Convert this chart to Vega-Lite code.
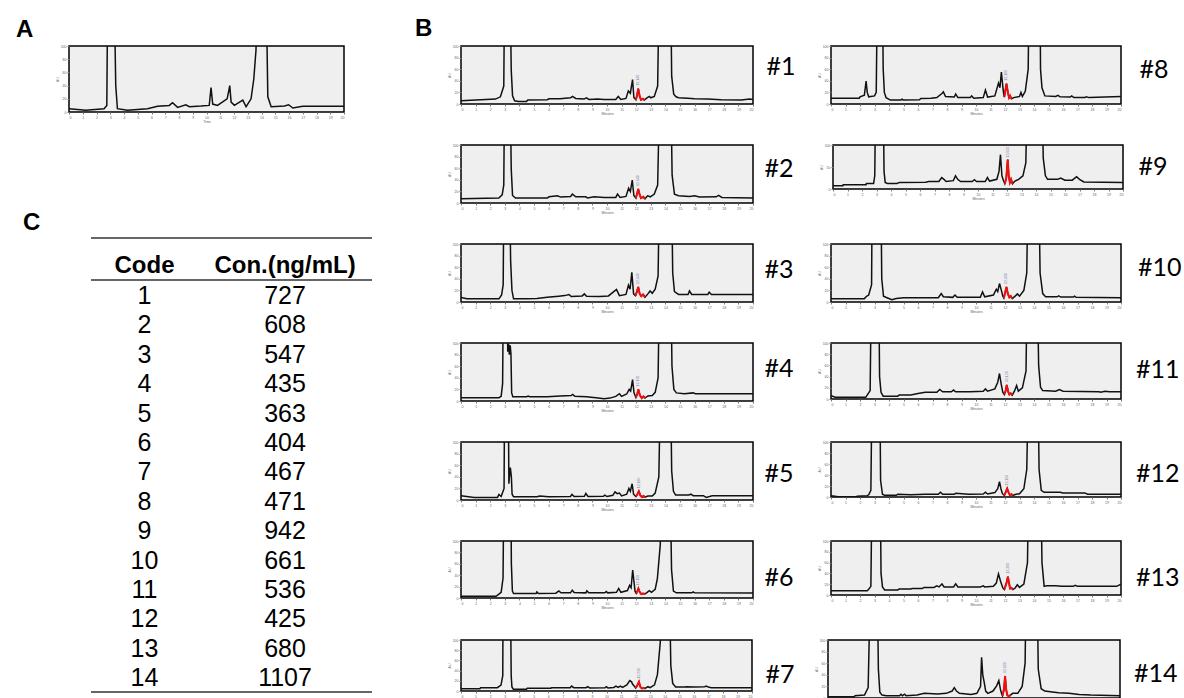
{
"$schema": "https://vega.github.io/schema/vega-lite/v6.json",
"background": "white",
"padding": {"left": 15, "top": 17, "right": 0, "bottom": 0},
"bounds": "flush",
"spacing": 392,
"config": {
 "view": {"fill": "#efefef", "stroke": "black", "strokeWidth": 1.5},
 "axis": {"grid": false, "domain": false, "labelFontSize": 3.5, "titleFontSize": 3.5, "labelColor": "#666", "titleColor": "#666", "tickColor": "#777", "tickSize": 2, "labelPadding": 1, "titlePadding": 1, "labelOverlap": false, "titleFontWeight": "normal", "labelFont": "Liberation Sans", "titleFont": "Liberation Sans"},
 "axisX": {"tickCount": 20},
 "axisY": {"tickCount": 5},
 "title": {"font": "Liberation Sans", "fontSize": 24, "fontWeight": "bold", "color": "black"}
},
"datasets": {
 "tbl": [
  {"Code": 1, "Con": 727}, {"Code": 2, "Con": 608}, {"Code": 3, "Con": 547}, {"Code": 4, "Con": 435},
  {"Code": 5, "Con": 363}, {"Code": 6, "Con": 404}, {"Code": 7, "Con": 467}, {"Code": 8, "Con": 471},
  {"Code": 9, "Con": 942}, {"Code": 10, "Con": 661}, {"Code": 11, "Con": 536}, {"Code": 12, "Con": 425},
  {"Code": 13, "Con": 680}, {"Code": 14, "Con": 1107}
 ],
 "ch": [
  {"s":0,"t":0,"y":5},{"s":0,"t":1.22,"y":2.5},{"s":0,"t":2.55,"y":5},{"s":0,"t":2.75,"y":10},{"s":0,"t":2.84,"y":250},{"s":0,"t":3.23,"y":250},{"s":0,"t":3.4,"y":40},{"s":0,"t":3.52,"y":5},{"s":0,"t":4.25,"y":2.5},{"s":0,"t":5.71,"y":5},{"s":0,"t":6.44,"y":8.6},{"s":0,"t":7.29,"y":10},{"s":0,"t":7.53,"y":14},{"s":0,"t":7.9,"y":7},{"s":0,"t":8.5,"y":11},{"s":0,"t":8.75,"y":8},{"s":0,"t":9.6,"y":9},{"s":0,"t":10.2,"y":10},{"s":0,"t":10.33,"y":37},{"s":0,"t":10.45,"y":12},{"s":0,"t":10.8,"y":10},{"s":0,"t":11.5,"y":20},{"s":0,"t":11.6,"y":30},{"s":0,"t":11.69,"y":40},{"s":0,"t":11.79,"y":15},{"s":0,"t":12.03,"y":10},{"s":0,"t":12.64,"y":18},{"s":0,"t":12.88,"y":8},{"s":0,"t":13.24,"y":20},{"s":0,"t":13.44,"y":50},{"s":0,"t":13.6,"y":94},{"s":0,"t":13.73,"y":250},{"s":0,"t":14.29,"y":250},{"s":0,"t":14.46,"y":23},{"s":0,"t":14.7,"y":8},{"s":0,"t":15.67,"y":9},{"s":0,"t":15.97,"y":11},{"s":0,"t":16.28,"y":6},{"s":0,"t":17.0,"y":8.6},{"s":0,"t":20,"y":8.6},

  {"s":1,"t":0,"y":5.6},{"s":1,"t":2.36,"y":8.5},{"s":1,"t":2.7,"y":12.4},{"s":1,"t":2.93,"y":31},{"s":1,"t":3.0,"y":250},{"s":1,"t":3.34,"y":250},{"s":1,"t":3.44,"y":59},{"s":1,"t":3.53,"y":14},{"s":1,"t":3.67,"y":5.6},{"s":1,"t":3.96,"y":4.5},{"s":1,"t":4.49,"y":4.5},{"s":1,"t":4.58,"y":6.8},{"s":1,"t":5.91,"y":7.3},{"s":1,"t":6.03,"y":9},{"s":1,"t":6.78,"y":9},{"s":1,"t":7.51,"y":10.7},{"s":1,"t":7.63,"y":13},{"s":1,"t":7.86,"y":9.6},{"s":1,"t":8.43,"y":8.5},{"s":1,"t":8.59,"y":10.7},{"s":1,"t":8.77,"y":7.9},{"s":1,"t":9.35,"y":8.5},{"s":1,"t":9.8,"y":7.9},{"s":1,"t":10.6,"y":7.9},{"s":1,"t":10.77,"y":13},{"s":1,"t":10.95,"y":7.9},{"s":1,"t":11.3,"y":9.6},{"s":1,"t":11.46,"y":22.6},{"s":1,"t":11.6,"y":18.6},{"s":1,"t":11.75,"y":42},{"s":1,"t":11.84,"y":11.3},{"s":1,"t":11.98,"y":7.3,"r":1},{"s":1,"t":12.05,"y":14,"r":1},{"s":1,"t":12.14,"y":26.6,"r":1},{"s":1,"t":12.24,"y":13,"r":1},{"s":1,"t":12.33,"y":7.3,"r":1},{"s":1,"t":12.46,"y":9,"r":1},{"s":1,"t":12.55,"y":6.8,"r":1},{"s":1,"t":12.74,"y":10.7},{"s":1,"t":12.9,"y":13},{"s":1,"t":13.0,"y":10.7},{"s":1,"t":13.24,"y":13},{"s":1,"t":13.47,"y":31},{"s":1,"t":13.6,"y":250},{"s":1,"t":14.34,"y":250},{"s":1,"t":14.43,"y":48},{"s":1,"t":14.57,"y":17},{"s":1,"t":14.73,"y":12.4},{"s":1,"t":14.9,"y":10.7},{"s":1,"t":15.53,"y":10},{"s":1,"t":16.0,"y":9},{"s":1,"t":16.9,"y":8.5},{"s":1,"t":17.8,"y":7.3},{"s":1,"t":19.2,"y":6.8},{"s":1,"t":19.77,"y":8.5},{"s":1,"t":20,"y":7.9},

  {"s":2,"t":0,"y":7.3},{"s":2,"t":2.59,"y":8.5},{"s":2,"t":2.82,"y":14},{"s":2,"t":2.93,"y":31},{"s":2,"t":3.0,"y":250},{"s":2,"t":3.34,"y":250},{"s":2,"t":3.44,"y":59},{"s":2,"t":3.53,"y":13},{"s":2,"t":3.73,"y":8.5},{"s":2,"t":5.91,"y":8.5},{"s":2,"t":6.03,"y":10.7},{"s":2,"t":6.6,"y":12.4},{"s":2,"t":6.83,"y":10.2},{"s":2,"t":7.51,"y":11.3},{"s":2,"t":7.63,"y":15.3},{"s":2,"t":7.86,"y":10.7},{"s":2,"t":8.55,"y":10.7},{"s":2,"t":8.66,"y":8.5},{"s":2,"t":9.12,"y":10.7},{"s":2,"t":9.8,"y":9.6},{"s":2,"t":10.6,"y":9.6},{"s":2,"t":10.72,"y":15.3},{"s":2,"t":10.9,"y":9.6},{"s":2,"t":11.3,"y":11.3},{"s":2,"t":11.48,"y":25.4},{"s":2,"t":11.6,"y":19.8},{"s":2,"t":11.73,"y":39.5},{"s":2,"t":11.84,"y":13},{"s":2,"t":11.98,"y":8.5,"r":1},{"s":2,"t":12.05,"y":15.3,"r":1},{"s":2,"t":12.14,"y":24.3,"r":1},{"s":2,"t":12.24,"y":14,"r":1},{"s":2,"t":12.33,"y":8.5,"r":1},{"s":2,"t":12.49,"y":10.7,"r":1},{"s":2,"t":12.6,"y":7.3,"r":1},{"s":2,"t":12.78,"y":12.4},{"s":2,"t":12.97,"y":10.7},{"s":2,"t":13.24,"y":15.3},{"s":2,"t":13.47,"y":31},{"s":2,"t":13.65,"y":250},{"s":2,"t":14.34,"y":250},{"s":2,"t":14.46,"y":48},{"s":2,"t":14.62,"y":15.3},{"s":2,"t":14.9,"y":12.4},{"s":2,"t":15.65,"y":11.3},{"s":2,"t":16.0,"y":12.4},{"s":2,"t":16.33,"y":10.2},{"s":2,"t":17.48,"y":10.7},{"s":2,"t":17.64,"y":13},{"s":2,"t":17.87,"y":9.6},{"s":2,"t":20,"y":8.5},

  {"s":3,"t":0,"y":7.8},{"s":3,"t":0.41,"y":5.5},{"s":3,"t":2.6,"y":5.5},{"s":3,"t":2.78,"y":12},{"s":3,"t":2.89,"y":30},{"s":3,"t":2.95,"y":250},{"s":3,"t":3.3,"y":250},{"s":3,"t":3.4,"y":70},{"s":3,"t":3.49,"y":20},{"s":3,"t":3.6,"y":5.5},{"s":3,"t":4.5,"y":5.5},{"s":3,"t":5.2,"y":6},{"s":3,"t":5.9,"y":8.3},{"s":3,"t":6.7,"y":10},{"s":3,"t":7.1,"y":11},{"s":3,"t":7.4,"y":13},{"s":3,"t":7.55,"y":9.5},{"s":3,"t":8.3,"y":10.5},{"s":3,"t":8.45,"y":14},{"s":3,"t":8.6,"y":10},{"s":3,"t":9.5,"y":9.5},{"s":3,"t":10.1,"y":10.5},{"s":3,"t":10.65,"y":21.7},{"s":3,"t":10.85,"y":11},{"s":3,"t":11.3,"y":13},{"s":3,"t":11.47,"y":29},{"s":3,"t":11.58,"y":22},{"s":3,"t":11.7,"y":51},{"s":3,"t":11.82,"y":14},{"s":3,"t":11.95,"y":11,"r":1},{"s":3,"t":12.05,"y":18,"r":1},{"s":3,"t":12.14,"y":26,"r":1},{"s":3,"t":12.24,"y":14,"r":1},{"s":3,"t":12.35,"y":10,"r":1},{"s":3,"t":12.47,"y":13,"r":1},{"s":3,"t":12.6,"y":8.3,"r":1},{"s":3,"t":12.8,"y":14},{"s":3,"t":12.95,"y":19},{"s":3,"t":13.1,"y":15},{"s":3,"t":13.3,"y":22},{"s":3,"t":13.5,"y":45},{"s":3,"t":13.62,"y":250},{"s":3,"t":14.4,"y":250},{"s":3,"t":14.5,"y":50},{"s":3,"t":14.62,"y":18},{"s":3,"t":14.9,"y":13},{"s":3,"t":15.55,"y":12.8},{"s":3,"t":15.65,"y":19},{"s":3,"t":15.8,"y":13},{"s":3,"t":16.9,"y":13},{"s":3,"t":17.0,"y":17},{"s":3,"t":17.15,"y":13},{"s":3,"t":20,"y":13},

  {"s":4,"t":0,"y":5.7},{"s":4,"t":2.6,"y":5.7},{"s":4,"t":2.75,"y":8},{"s":4,"t":2.85,"y":30},{"s":4,"t":2.92,"y":250},{"s":4,"t":3.15,"y":250},{"s":4,"t":3.2,"y":85},{"s":4,"t":3.26,"y":98},{"s":4,"t":3.31,"y":80},{"s":4,"t":3.37,"y":96},{"s":4,"t":3.42,"y":82},{"s":4,"t":3.47,"y":14},{"s":4,"t":3.55,"y":7.4},{"s":4,"t":4.5,"y":7.4},{"s":4,"t":4.6,"y":8.6},{"s":4,"t":4.7,"y":7.4},{"s":4,"t":5.9,"y":7.4},{"s":4,"t":6.8,"y":8.6},{"s":4,"t":7.55,"y":9.5},{"s":4,"t":7.65,"y":11.4},{"s":4,"t":7.8,"y":8},{"s":4,"t":8.6,"y":7.4},{"s":4,"t":9.4,"y":5},{"s":4,"t":9.8,"y":4},{"s":4,"t":10.2,"y":5},{"s":4,"t":10.6,"y":8},{"s":4,"t":10.85,"y":12.6},{"s":4,"t":11.0,"y":8},{"s":4,"t":11.35,"y":12},{"s":4,"t":11.52,"y":20},{"s":4,"t":11.62,"y":17},{"s":4,"t":11.75,"y":37},{"s":4,"t":11.85,"y":14},{"s":4,"t":11.98,"y":6,"r":1},{"s":4,"t":12.07,"y":12,"r":1},{"s":4,"t":12.15,"y":20,"r":1},{"s":4,"t":12.25,"y":10,"r":1},{"s":4,"t":12.38,"y":5,"r":1},{"s":4,"t":12.5,"y":8,"r":1},{"s":4,"t":12.6,"y":5,"r":1},{"s":4,"t":12.8,"y":8.6},{"s":4,"t":13.1,"y":9.6},{"s":4,"t":13.3,"y":15},{"s":4,"t":13.5,"y":40},{"s":4,"t":13.62,"y":250},{"s":4,"t":14.35,"y":250},{"s":4,"t":14.45,"y":60},{"s":4,"t":14.58,"y":20},{"s":4,"t":14.75,"y":14},{"s":4,"t":15.3,"y":12.6},{"s":4,"t":15.9,"y":14},{"s":4,"t":16.05,"y":12.6},{"s":4,"t":20,"y":12.6},

  {"s":5,"t":0,"y":7.3},{"s":5,"t":0.9,"y":4.5},{"s":5,"t":2.5,"y":4.5},{"s":5,"t":2.6,"y":9.6},{"s":5,"t":2.75,"y":6},{"s":5,"t":2.95,"y":20},{"s":5,"t":3.0,"y":250},{"s":5,"t":3.22,"y":250},{"s":5,"t":3.28,"y":28},{"s":5,"t":3.33,"y":45},{"s":5,"t":3.38,"y":56},{"s":5,"t":3.45,"y":40},{"s":5,"t":3.5,"y":10},{"s":5,"t":3.6,"y":5.6},{"s":5,"t":5.2,"y":5.6},{"s":5,"t":5.4,"y":7},{"s":5,"t":6.0,"y":5.6},{"s":5,"t":7.5,"y":6},{"s":5,"t":7.6,"y":9.6},{"s":5,"t":7.75,"y":6},{"s":5,"t":8.45,"y":6.5},{"s":5,"t":8.55,"y":11.3},{"s":5,"t":8.7,"y":6},{"s":5,"t":9.75,"y":6.5},{"s":5,"t":9.85,"y":8.5},{"s":5,"t":10.0,"y":6},{"s":5,"t":10.4,"y":8},{"s":5,"t":10.55,"y":14},{"s":5,"t":10.7,"y":11},{"s":5,"t":10.85,"y":12},{"s":5,"t":11.0,"y":7},{"s":5,"t":11.35,"y":10},{"s":5,"t":11.5,"y":20},{"s":5,"t":11.6,"y":15},{"s":5,"t":11.72,"y":28},{"s":5,"t":11.82,"y":10},{"s":5,"t":11.98,"y":6,"r":1},{"s":5,"t":12.08,"y":10,"r":1},{"s":5,"t":12.18,"y":15,"r":1},{"s":5,"t":12.28,"y":8,"r":1},{"s":5,"t":12.4,"y":5,"r":1},{"s":5,"t":12.5,"y":7,"r":1},{"s":5,"t":12.6,"y":5,"r":1},{"s":5,"t":12.8,"y":7},{"s":5,"t":13.1,"y":7},{"s":5,"t":13.3,"y":12},{"s":5,"t":13.55,"y":40},{"s":5,"t":13.7,"y":250},{"s":5,"t":14.33,"y":250},{"s":5,"t":14.43,"y":50},{"s":5,"t":14.55,"y":15},{"s":5,"t":14.7,"y":8.5},{"s":5,"t":15.6,"y":8.5},{"s":5,"t":15.75,"y":10},{"s":5,"t":15.9,"y":7.5},{"s":5,"t":16.6,"y":7.5},{"s":5,"t":16.8,"y":4.5},{"s":5,"t":17.2,"y":7.3},{"s":5,"t":20,"y":7.3},

  {"s":6,"t":0,"y":3},{"s":6,"t":2.4,"y":3},{"s":6,"t":2.55,"y":6},{"s":6,"t":2.75,"y":10},{"s":6,"t":2.88,"y":35},{"s":6,"t":2.95,"y":250},{"s":6,"t":3.4,"y":250},{"s":6,"t":3.45,"y":60},{"s":6,"t":3.52,"y":12},{"s":6,"t":3.6,"y":7.7},{"s":6,"t":5.15,"y":7.7},{"s":6,"t":5.2,"y":10.7},{"s":6,"t":5.3,"y":7.7},{"s":6,"t":6.5,"y":8.5},{"s":6,"t":6.7,"y":12.5},{"s":6,"t":6.85,"y":9},{"s":6,"t":7.5,"y":9},{"s":6,"t":7.62,"y":13.7},{"s":6,"t":7.75,"y":9.5},{"s":6,"t":8.55,"y":9},{"s":6,"t":8.62,"y":12.5},{"s":6,"t":8.75,"y":9},{"s":6,"t":9.85,"y":9},{"s":6,"t":9.95,"y":11.5},{"s":6,"t":10.05,"y":9},{"s":6,"t":10.65,"y":10},{"s":6,"t":10.8,"y":16.7},{"s":6,"t":10.95,"y":10},{"s":6,"t":11.4,"y":13},{"s":6,"t":11.55,"y":22},{"s":6,"t":11.65,"y":18},{"s":6,"t":11.76,"y":49},{"s":6,"t":11.85,"y":28},{"s":6,"t":11.92,"y":12},{"s":6,"t":12.0,"y":8,"r":1},{"s":6,"t":12.08,"y":12,"r":1},{"s":6,"t":12.15,"y":16.7,"r":1},{"s":6,"t":12.25,"y":10,"r":1},{"s":6,"t":12.35,"y":7,"r":1},{"s":6,"t":12.48,"y":8,"r":1},{"s":6,"t":12.6,"y":7,"r":1},{"s":6,"t":12.75,"y":10},{"s":6,"t":12.9,"y":13},{"s":6,"t":13.05,"y":10},{"s":6,"t":13.3,"y":15},{"s":6,"t":13.45,"y":34},{"s":6,"t":13.65,"y":94},{"s":6,"t":13.75,"y":250},{"s":6,"t":14.3,"y":250},{"s":6,"t":14.42,"y":50},{"s":6,"t":14.55,"y":12},{"s":6,"t":14.75,"y":9},{"s":6,"t":15.8,"y":9},{"s":6,"t":15.9,"y":10.7},{"s":6,"t":16.0,"y":9},{"s":6,"t":20,"y":8.9},

  {"s":7,"t":0,"y":4.5},{"s":7,"t":1.3,"y":4.5},{"s":7,"t":1.35,"y":6.5},{"s":7,"t":2.5,"y":6.5},{"s":7,"t":2.75,"y":11.6},{"s":7,"t":2.87,"y":30},{"s":7,"t":2.9,"y":250},{"s":7,"t":3.38,"y":250},{"s":7,"t":3.45,"y":30},{"s":7,"t":3.5,"y":8},{"s":7,"t":3.6,"y":3.2},{"s":7,"t":4.5,"y":3.2},{"s":7,"t":4.55,"y":5.2},{"s":7,"t":6.18,"y":5.2},{"s":7,"t":6.22,"y":6.5},{"s":7,"t":7.5,"y":6.5},{"s":7,"t":7.6,"y":9.7},{"s":7,"t":7.75,"y":6.5},{"s":7,"t":8.6,"y":6.5},{"s":7,"t":8.7,"y":8.5},{"s":7,"t":8.85,"y":6},{"s":7,"t":9.9,"y":6.5},{"s":7,"t":10.0,"y":8.5},{"s":7,"t":10.1,"y":6},{"s":7,"t":10.5,"y":7},{"s":7,"t":10.65,"y":9.7},{"s":7,"t":10.8,"y":7},{"s":7,"t":10.95,"y":9.7},{"s":7,"t":11.1,"y":7},{"s":7,"t":11.4,"y":12},{"s":7,"t":11.6,"y":20.6},{"s":7,"t":11.72,"y":18},{"s":7,"t":11.8,"y":13},{"s":7,"t":11.9,"y":10},{"s":7,"t":12.0,"y":6,"r":1},{"s":7,"t":12.1,"y":10,"r":1},{"s":7,"t":12.23,"y":18,"r":1},{"s":7,"t":12.33,"y":8,"r":1},{"s":7,"t":12.43,"y":5,"r":1},{"s":7,"t":12.55,"y":6,"r":1},{"s":7,"t":12.65,"y":5,"r":1},{"s":7,"t":12.85,"y":8.4},{"s":7,"t":13.0,"y":6.5},{"s":7,"t":13.3,"y":12},{"s":7,"t":13.5,"y":32},{"s":7,"t":13.7,"y":97},{"s":7,"t":13.8,"y":250},{"s":7,"t":14.3,"y":250},{"s":7,"t":14.42,"y":50},{"s":7,"t":14.55,"y":15},{"s":7,"t":14.75,"y":7.7},{"s":7,"t":15.4,"y":7.7},{"s":7,"t":15.5,"y":8.5},{"s":7,"t":16.0,"y":7.7},{"s":7,"t":16.75,"y":8.5},{"s":7,"t":16.85,"y":9.7},{"s":7,"t":17.0,"y":7.7},{"s":7,"t":17.2,"y":6.5},{"s":7,"t":20,"y":6.5},

  {"s":8,"t":0,"y":10},{"s":8,"t":1.95,"y":10},{"s":8,"t":2.0,"y":12.4},{"s":8,"t":2.3,"y":15},{"s":8,"t":2.42,"y":39.5},{"s":8,"t":2.5,"y":20},{"s":8,"t":2.6,"y":12.4},{"s":8,"t":3.0,"y":14},{"s":8,"t":3.12,"y":20},{"s":8,"t":3.22,"y":250},{"s":8,"t":3.52,"y":250},{"s":8,"t":3.6,"y":60},{"s":8,"t":3.68,"y":20},{"s":8,"t":3.8,"y":11},{"s":8,"t":4.1,"y":6.8},{"s":8,"t":4.8,"y":6.8},{"s":8,"t":4.9,"y":8.5},{"s":8,"t":5.0,"y":6.8},{"s":8,"t":6.1,"y":7.3},{"s":8,"t":6.2,"y":9.5},{"s":8,"t":6.9,"y":10},{"s":8,"t":7.3,"y":11},{"s":8,"t":7.65,"y":18},{"s":8,"t":7.75,"y":21},{"s":8,"t":7.9,"y":13},{"s":8,"t":8.5,"y":12},{"s":8,"t":8.6,"y":17},{"s":8,"t":8.75,"y":11},{"s":8,"t":9.6,"y":11},{"s":8,"t":9.7,"y":14},{"s":8,"t":9.85,"y":10},{"s":8,"t":10.5,"y":11},{"s":8,"t":10.65,"y":24},{"s":8,"t":10.8,"y":12},{"s":8,"t":11.3,"y":14},{"s":8,"t":11.55,"y":36},{"s":8,"t":11.65,"y":28},{"s":8,"t":11.75,"y":55},{"s":8,"t":11.85,"y":30},{"s":8,"t":11.92,"y":15},{"s":8,"t":11.95,"y":12,"r":1},{"s":8,"t":12.02,"y":22,"r":1},{"s":8,"t":12.1,"y":35,"r":1},{"s":8,"t":12.2,"y":20,"r":1},{"s":8,"t":12.28,"y":11,"r":1},{"s":8,"t":12.35,"y":14,"r":1},{"s":8,"t":12.45,"y":9,"r":1},{"s":8,"t":12.6,"y":11},{"s":8,"t":13.0,"y":13},{"s":8,"t":13.1,"y":20},{"s":8,"t":13.2,"y":13},{"s":8,"t":13.4,"y":22},{"s":8,"t":13.6,"y":60},{"s":8,"t":13.68,"y":250},{"s":8,"t":14.4,"y":250},{"s":8,"t":14.45,"y":60},{"s":8,"t":14.55,"y":28},{"s":8,"t":14.75,"y":14},{"s":8,"t":15.5,"y":13},{"s":8,"t":15.65,"y":15},{"s":8,"t":15.8,"y":12.5},{"s":8,"t":16.5,"y":12},{"s":8,"t":16.6,"y":14},{"s":8,"t":16.75,"y":11},{"s":8,"t":17.5,"y":11},{"s":8,"t":17.6,"y":12.4},{"s":8,"t":17.8,"y":11},{"s":8,"t":20,"y":13},

  {"s":9,"t":0,"y":7.4},{"s":9,"t":0.68,"y":7.4},{"s":9,"t":0.7,"y":9.6},{"s":9,"t":2.28,"y":9.6},{"s":9,"t":2.3,"y":12.6},{"s":9,"t":2.8,"y":12.6},{"s":9,"t":2.88,"y":30},{"s":9,"t":2.95,"y":250},{"s":9,"t":3.45,"y":250},{"s":9,"t":3.52,"y":40},{"s":9,"t":3.6,"y":15},{"s":9,"t":3.75,"y":12.6},{"s":9,"t":4.4,"y":12.6},{"s":9,"t":4.6,"y":15},{"s":9,"t":6.4,"y":15.5},{"s":9,"t":6.6,"y":17},{"s":9,"t":7.3,"y":17},{"s":9,"t":7.5,"y":26},{"s":9,"t":7.65,"y":22},{"s":9,"t":7.8,"y":17},{"s":9,"t":8.3,"y":19},{"s":9,"t":8.45,"y":30},{"s":9,"t":8.6,"y":22},{"s":9,"t":8.8,"y":17},{"s":9,"t":9.6,"y":17},{"s":9,"t":9.75,"y":21},{"s":9,"t":9.9,"y":17},{"s":9,"t":10.5,"y":17},{"s":9,"t":10.65,"y":26},{"s":9,"t":10.8,"y":18},{"s":9,"t":11.3,"y":22},{"s":9,"t":11.45,"y":40},{"s":9,"t":11.55,"y":78},{"s":9,"t":11.65,"y":30},{"s":9,"t":11.75,"y":20},{"s":9,"t":11.85,"y":12,"r":1},{"s":9,"t":11.95,"y":25,"r":1},{"s":9,"t":12.05,"y":67,"r":1},{"s":9,"t":12.12,"y":30,"r":1},{"s":9,"t":12.2,"y":15,"r":1},{"s":9,"t":12.28,"y":22,"r":1},{"s":9,"t":12.38,"y":12,"r":1},{"s":9,"t":12.55,"y":18},{"s":9,"t":12.8,"y":22},{"s":9,"t":13.1,"y":30},{"s":9,"t":13.3,"y":60},{"s":9,"t":13.4,"y":250},{"s":9,"t":14.4,"y":250},{"s":9,"t":14.5,"y":70},{"s":9,"t":14.65,"y":30},{"s":9,"t":14.8,"y":22},{"s":9,"t":15.5,"y":22},{"s":9,"t":15.7,"y":25},{"s":9,"t":16.0,"y":20},{"s":9,"t":16.5,"y":20},{"s":9,"t":16.8,"y":28},{"s":9,"t":17.0,"y":22},{"s":9,"t":17.3,"y":16},{"s":9,"t":20,"y":15},

  {"s":10,"t":0,"y":5.8},{"s":10,"t":2.3,"y":5.8},{"s":10,"t":2.45,"y":9.8},{"s":10,"t":2.6,"y":12},{"s":10,"t":2.8,"y":30},{"s":10,"t":2.85,"y":250},{"s":10,"t":3.42,"y":250},{"s":10,"t":3.5,"y":40},{"s":10,"t":3.62,"y":9.8},{"s":10,"t":3.9,"y":7},{"s":10,"t":4.2,"y":4},{"s":10,"t":4.5,"y":6},{"s":10,"t":5.0,"y":7.5},{"s":10,"t":7.4,"y":7.5},{"s":10,"t":7.6,"y":14.5},{"s":10,"t":7.75,"y":9},{"s":10,"t":8.4,"y":8},{"s":10,"t":8.55,"y":12},{"s":10,"t":8.7,"y":8},{"s":10,"t":10.3,"y":8},{"s":10,"t":10.45,"y":17.3},{"s":10,"t":10.6,"y":9},{"s":10,"t":11.2,"y":12},{"s":10,"t":11.4,"y":22},{"s":10,"t":11.5,"y":18},{"s":10,"t":11.62,"y":31.8},{"s":10,"t":11.75,"y":20},{"s":10,"t":11.85,"y":10},{"s":10,"t":11.92,"y":7,"r":1},{"s":10,"t":12.0,"y":15,"r":1},{"s":10,"t":12.1,"y":26,"r":1},{"s":10,"t":12.2,"y":14,"r":1},{"s":10,"t":12.3,"y":8,"r":1},{"s":10,"t":12.4,"y":10,"r":1},{"s":10,"t":12.5,"y":6,"r":1},{"s":10,"t":12.7,"y":10},{"s":10,"t":12.85,"y":14},{"s":10,"t":13.0,"y":10},{"s":10,"t":13.3,"y":20},{"s":10,"t":13.5,"y":50},{"s":10,"t":13.62,"y":250},{"s":10,"t":14.3,"y":250},{"s":10,"t":14.42,"y":50},{"s":10,"t":14.6,"y":14.5},{"s":10,"t":14.8,"y":9},{"s":10,"t":15.6,"y":9},{"s":10,"t":15.7,"y":10.5},{"s":10,"t":15.85,"y":8.5},{"s":10,"t":16.7,"y":8.5},{"s":10,"t":16.8,"y":10},{"s":10,"t":16.9,"y":8},{"s":10,"t":20,"y":7.5},

  {"s":11,"t":0,"y":6},{"s":11,"t":0.3,"y":3},{"s":11,"t":2.4,"y":3},{"s":11,"t":2.55,"y":9},{"s":11,"t":2.7,"y":15},{"s":11,"t":2.8,"y":250},{"s":11,"t":3.28,"y":250},{"s":11,"t":3.35,"y":40},{"s":11,"t":3.45,"y":12},{"s":11,"t":3.6,"y":5},{"s":11,"t":4.6,"y":5},{"s":11,"t":4.7,"y":7},{"s":11,"t":5.5,"y":7},{"s":11,"t":6.0,"y":10},{"s":11,"t":6.5,"y":12},{"s":11,"t":7.3,"y":12},{"s":11,"t":7.5,"y":17},{"s":11,"t":7.7,"y":13},{"s":11,"t":8.3,"y":13},{"s":11,"t":8.45,"y":16},{"s":11,"t":8.6,"y":13},{"s":11,"t":9.6,"y":13},{"s":11,"t":10.5,"y":14},{"s":11,"t":10.65,"y":18},{"s":11,"t":10.8,"y":14},{"s":11,"t":11.3,"y":18},{"s":11,"t":11.5,"y":30},{"s":11,"t":11.62,"y":45.5},{"s":11,"t":11.75,"y":25},{"s":11,"t":11.85,"y":12},{"s":11,"t":11.95,"y":8,"r":1},{"s":11,"t":12.05,"y":15,"r":1},{"s":11,"t":12.12,"y":25,"r":1},{"s":11,"t":12.22,"y":13,"r":1},{"s":11,"t":12.3,"y":8,"r":1},{"s":11,"t":12.4,"y":10,"r":1},{"s":11,"t":12.5,"y":7,"r":1},{"s":11,"t":12.65,"y":14},{"s":11,"t":12.8,"y":24},{"s":11,"t":12.92,"y":14},{"s":11,"t":13.2,"y":20},{"s":11,"t":13.45,"y":50},{"s":11,"t":13.55,"y":250},{"s":11,"t":14.2,"y":250},{"s":11,"t":14.32,"y":60},{"s":11,"t":14.45,"y":21},{"s":11,"t":14.6,"y":15},{"s":11,"t":15.5,"y":14},{"s":11,"t":15.75,"y":17},{"s":11,"t":16.0,"y":14},{"s":11,"t":18.5,"y":13},{"s":11,"t":18.6,"y":12},{"s":11,"t":18.9,"y":14},{"s":11,"t":19.2,"y":13},{"s":11,"t":20,"y":13},

  {"s":12,"t":0,"y":2.5},{"s":12,"t":0.5,"y":0.3},{"s":12,"t":1.7,"y":0.3},{"s":12,"t":1.8,"y":1.5},{"s":12,"t":2.5,"y":2.5},{"s":12,"t":2.6,"y":4},{"s":12,"t":2.75,"y":12},{"s":12,"t":2.85,"y":250},{"s":12,"t":3.35,"y":250},{"s":12,"t":3.42,"y":30},{"s":12,"t":3.55,"y":5},{"s":12,"t":3.7,"y":3},{"s":12,"t":4.5,"y":3},{"s":12,"t":4.6,"y":5},{"s":12,"t":5.5,"y":4},{"s":12,"t":6.5,"y":5},{"s":12,"t":7.4,"y":5},{"s":12,"t":7.55,"y":8.6},{"s":12,"t":7.7,"y":5},{"s":12,"t":8.5,"y":5},{"s":12,"t":8.6,"y":7},{"s":12,"t":9.5,"y":5},{"s":12,"t":10.5,"y":5.5},{"s":12,"t":10.65,"y":8.6},{"s":12,"t":10.8,"y":5.5},{"s":12,"t":11.3,"y":8},{"s":12,"t":11.5,"y":15},{"s":12,"t":11.62,"y":28},{"s":12,"t":11.72,"y":15},{"s":12,"t":11.82,"y":6},{"s":12,"t":11.95,"y":3,"r":1},{"s":12,"t":12.05,"y":9,"r":1},{"s":12,"t":12.15,"y":15.4,"r":1},{"s":12,"t":12.25,"y":8,"r":1},{"s":12,"t":12.35,"y":3,"r":1},{"s":12,"t":12.45,"y":5,"r":1},{"s":12,"t":12.55,"y":3,"r":1},{"s":12,"t":12.75,"y":5},{"s":12,"t":13.0,"y":6},{"s":12,"t":13.3,"y":15},{"s":12,"t":13.5,"y":50},{"s":12,"t":13.65,"y":250},{"s":12,"t":14.25,"y":250},{"s":12,"t":14.35,"y":50},{"s":12,"t":14.5,"y":12},{"s":12,"t":14.7,"y":8.6},{"s":12,"t":15.8,"y":8.6},{"s":12,"t":16.0,"y":7.5},{"s":12,"t":17.5,"y":7.5},{"s":12,"t":17.7,"y":5},{"s":12,"t":20,"y":5},

  {"s":13,"t":0,"y":8},{"s":13,"t":2.5,"y":8},{"s":13,"t":2.6,"y":10.6},{"s":13,"t":2.75,"y":16},{"s":13,"t":2.85,"y":250},{"s":13,"t":3.38,"y":250},{"s":13,"t":3.45,"y":40},{"s":13,"t":3.55,"y":15},{"s":13,"t":3.7,"y":9.4},{"s":13,"t":4.6,"y":9.4},{"s":13,"t":4.7,"y":11},{"s":13,"t":5.5,"y":11},{"s":13,"t":5.6,"y":12},{"s":13,"t":6.3,"y":12},{"s":13,"t":6.4,"y":14},{"s":13,"t":7.1,"y":14},{"s":13,"t":7.3,"y":17},{"s":13,"t":7.45,"y":15},{"s":13,"t":7.65,"y":20.6},{"s":13,"t":7.8,"y":15},{"s":13,"t":8.45,"y":15},{"s":13,"t":8.6,"y":20.6},{"s":13,"t":8.75,"y":15},{"s":13,"t":9.7,"y":15},{"s":13,"t":10.3,"y":15},{"s":13,"t":10.5,"y":17},{"s":13,"t":10.6,"y":15},{"s":13,"t":11.2,"y":16},{"s":13,"t":11.4,"y":22},{"s":13,"t":11.55,"y":39},{"s":13,"t":11.7,"y":25},{"s":13,"t":11.85,"y":13},{"s":13,"t":11.95,"y":10,"r":1},{"s":13,"t":12.1,"y":22,"r":1},{"s":13,"t":12.2,"y":34,"r":1},{"s":13,"t":12.28,"y":22,"r":1},{"s":13,"t":12.35,"y":12,"r":1},{"s":13,"t":12.45,"y":13,"r":1},{"s":13,"t":12.55,"y":10,"r":1},{"s":13,"t":12.7,"y":13},{"s":13,"t":12.85,"y":19},{"s":13,"t":13.0,"y":14},{"s":13,"t":13.3,"y":20},{"s":13,"t":13.55,"y":60},{"s":13,"t":13.65,"y":250},{"s":13,"t":14.45,"y":250},{"s":13,"t":14.55,"y":60},{"s":13,"t":14.7,"y":16},{"s":13,"t":14.85,"y":17},{"s":13,"t":15.5,"y":17},{"s":13,"t":15.9,"y":16},{"s":13,"t":16.7,"y":16},{"s":13,"t":16.85,"y":18},{"s":13,"t":17.0,"y":16},{"s":13,"t":19.7,"y":16},{"s":13,"t":20,"y":20},

  {"s":14,"t":0,"y":2},{"s":14,"t":1.8,"y":2},{"s":14,"t":1.85,"y":4},{"s":14,"t":2.5,"y":5},{"s":14,"t":2.75,"y":18},{"s":14,"t":2.95,"y":250},{"s":14,"t":3.35,"y":250},{"s":14,"t":3.45,"y":50},{"s":14,"t":3.55,"y":10},{"s":14,"t":3.7,"y":5},{"s":14,"t":4.0,"y":4},{"s":14,"t":4.9,"y":4},{"s":14,"t":5.0,"y":6.5},{"s":14,"t":5.1,"y":4},{"s":14,"t":5.25,"y":6.5},{"s":14,"t":5.35,"y":4},{"s":14,"t":6.1,"y":5},{"s":14,"t":6.6,"y":8},{"s":14,"t":7.5,"y":7},{"s":14,"t":8.1,"y":8},{"s":14,"t":8.5,"y":12},{"s":14,"t":8.65,"y":18},{"s":14,"t":8.8,"y":12},{"s":14,"t":9.0,"y":8},{"s":14,"t":9.8,"y":6},{"s":14,"t":10.2,"y":8},{"s":14,"t":10.45,"y":20},{"s":14,"t":10.52,"y":70},{"s":14,"t":10.6,"y":40},{"s":14,"t":10.7,"y":27},{"s":14,"t":10.8,"y":12},{"s":14,"t":10.95,"y":8},{"s":14,"t":11.3,"y":12},{"s":14,"t":11.55,"y":21},{"s":14,"t":11.7,"y":30},{"s":14,"t":11.82,"y":14},{"s":14,"t":11.9,"y":7},{"s":14,"t":11.95,"y":4,"r":1},{"s":14,"t":12.05,"y":15,"r":1},{"s":14,"t":12.13,"y":38,"r":1},{"s":14,"t":12.2,"y":15,"r":1},{"s":14,"t":12.28,"y":5,"r":1},{"s":14,"t":12.38,"y":3,"r":1},{"s":14,"t":12.5,"y":5,"r":1},{"s":14,"t":12.65,"y":8},{"s":14,"t":13.0,"y":8},{"s":14,"t":13.3,"y":20},{"s":14,"t":13.5,"y":60},{"s":14,"t":13.6,"y":250},{"s":14,"t":14.3,"y":250},{"s":14,"t":14.4,"y":50},{"s":14,"t":14.6,"y":16},{"s":14,"t":14.85,"y":12},{"s":14,"t":15.5,"y":10},{"s":14,"t":15.8,"y":9},{"s":14,"t":16.5,"y":8},{"s":14,"t":17.2,"y":6},{"s":14,"t":18.0,"y":5},{"s":14,"t":20,"y":4}
 ]
},
"data": {"name": "ch"},
"hconcat": [
 {
  "bounds": "flush",
  "spacing": 125,
  "vconcat": [
   {
    "width": 275, "height": 66,
    "title": {"text": "A", "anchor": "start", "frame": "group", "dx": -53, "offset": -17, "baseline": "alphabetic"},
    "transform": [{"filter": "datum.s==0"}],
    "encoding": {"x": {"field": "t", "type": "quantitative", "scale": {"domain": [0, 20], "nice": false}, "title": "Time"}, "y": {"field": "y", "type": "quantitative", "scale": {"domain": [0, 100], "nice": false}, "title": "AU"}},
    "mark": {"type": "line", "color": "#111", "strokeWidth": 1.5, "clip": true}
   },
   {
    "bounds": "flush",
    "spacing": 0,
    "hconcat": [
     {"width": 22, "height": 10, "view": {"stroke": null, "fill": null}, "data": {"values": []}, "mark": "point"},
     {
      "width": 281, "height": 456,
      "view": {"stroke": null, "fill": null},
      "title": {"text": "C", "anchor": "start", "frame": "group", "dx": -68, "offset": -17, "baseline": "alphabetic"},
      "layer": [
       {"data": {"values": [{}]}, "mark": {"type": "rule", "color": "#666", "strokeWidth": 2}, "encoding": {"y": {"datum": -0.97, "type": "quantitative", "scale": {"domain": [-1, 14.5], "reverse": true, "nice": false}, "axis": null}}},
       {"data": {"values": [{}]}, "mark": {"type": "rule", "color": "#666", "strokeWidth": 2}, "encoding": {"y": {"datum": 0.46, "type": "quantitative", "axis": null}}},
       {"data": {"values": [{}]}, "mark": {"type": "rule", "color": "#666", "strokeWidth": 2}, "encoding": {"y": {"datum": 14.47, "type": "quantitative", "axis": null}}},
       {"data": {"values": [{"col": "Code", "v": "Code"}, {"col": "Con", "v": "Con.(ng/mL)"}]}, "mark": {"type": "text", "font": "Liberation Sans", "fontSize": 24, "fontWeight": "bold", "color": "black"}, "encoding": {"x": {"field": "col", "type": "nominal", "scale": {"type": "point", "domain": ["Code", "Con"], "paddingOuter": 0.489, "align": 0.381}, "axis": null}, "y": {"datum": 0, "type": "quantitative", "axis": null}, "text": {"field": "v"}}},
       {"data": {"name": "tbl"}, "transform": [{"fold": ["Code", "Con"], "as": ["col", "v"]}], "mark": {"type": "text", "font": "Liberation Sans", "fontSize": 25, "color": "black"}, "encoding": {"x": {"field": "col", "type": "nominal", "axis": null}, "y": {"field": "Code", "type": "quantitative", "axis": null}, "text": {"field": "v"}}}
      ]
     }
    ]
   }
  ]
 },
 {
  "bounds": "flush",
  "spacing": 99,
  "title": {"text": "B", "anchor": "start", "frame": "group", "dx": -46, "offset": -17, "baseline": "alphabetic"},
  "vconcat": [
   {"bounds": "flush", "spacing": 78, "hconcat": [
    {"width": 292, "height": 58, "title": {"text": "#1", "orient": "right", "angle": 0, "align": "left", "baseline": "middle", "anchor": "middle", "frame": "group", "offset": -16, "dy": -8, "font": "Lato", "fontWeight": "normal", "fontSize": 25}, "transform": [{"filter": "datum.s==1"}], "encoding": {"x": {"field": "t", "type": "quantitative", "scale": {"domain": [0, 20], "nice": false}, "title": "Minutes"}, "y": {"field": "y", "type": "quantitative", "scale": {"domain": [0, 100], "nice": false}, "title": "AU"}}, "layer": [{"mark": {"type": "line", "color": "#111", "strokeWidth": 1.5, "clip": true}}, {"transform": [{"filter": "datum.r==1"}], "mark": {"type": "line", "color": "#f01010", "strokeWidth": 2, "clip": true}}, {"transform": [{"filter": "datum.r==1"}, {"joinaggregate": [{"op": "max", "field": "y", "as": "my"}]}, {"filter": "datum.y==datum.my"}], "mark": {"type": "text", "angle": 270, "align": "left", "baseline": "middle", "dx": 3, "fontSize": 3.5, "color": "#7a7aa8"}, "encoding": {"text": {"field": "t", "type": "quantitative", "format": ".3f"}}}]},
    {"width": 290, "height": 58, "title": {"text": "#8", "orient": "right", "angle": 0, "align": "left", "baseline": "middle", "anchor": "middle", "frame": "group", "offset": -11, "dy": -5, "font": "Lato", "fontWeight": "normal", "fontSize": 25}, "transform": [{"filter": "datum.s==8"}], "encoding": {"x": {"field": "t", "type": "quantitative", "scale": {"domain": [0, 20], "nice": false}, "title": "Minutes"}, "y": {"field": "y", "type": "quantitative", "scale": {"domain": [0, 100], "nice": false}, "title": "AU"}}, "layer": [{"mark": {"type": "line", "color": "#111", "strokeWidth": 1.5, "clip": true}}, {"transform": [{"filter": "datum.r==1"}], "mark": {"type": "line", "color": "#f01010", "strokeWidth": 2, "clip": true}}, {"transform": [{"filter": "datum.r==1"}, {"joinaggregate": [{"op": "max", "field": "y", "as": "my"}]}, {"filter": "datum.y==datum.my"}], "mark": {"type": "text", "angle": 270, "align": "left", "baseline": "middle", "dx": 3, "fontSize": 3.5, "color": "#7a7aa8"}, "encoding": {"text": {"field": "t", "type": "quantitative", "format": ".3f"}}}]}
   ]},
   {"bounds": "flush", "spacing": 80, "hconcat": [
    {"width": 292, "height": 58, "title": {"text": "#2", "orient": "right", "angle": 0, "align": "left", "baseline": "middle", "anchor": "middle", "frame": "group", "offset": -18, "dy": -5, "font": "Lato", "fontWeight": "normal", "fontSize": 25}, "transform": [{"filter": "datum.s==2"}], "encoding": {"x": {"field": "t", "type": "quantitative", "scale": {"domain": [0, 20], "nice": false}, "title": "Minutes"}, "y": {"field": "y", "type": "quantitative", "scale": {"domain": [0, 100], "nice": false}, "title": "AU"}}, "layer": [{"mark": {"type": "line", "color": "#111", "strokeWidth": 1.5, "clip": true}}, {"transform": [{"filter": "datum.r==1"}], "mark": {"type": "line", "color": "#f01010", "strokeWidth": 2, "clip": true}}, {"transform": [{"filter": "datum.r==1"}, {"joinaggregate": [{"op": "max", "field": "y", "as": "my"}]}, {"filter": "datum.y==datum.my"}], "mark": {"type": "text", "angle": 270, "align": "left", "baseline": "middle", "dx": 3, "fontSize": 3.5, "color": "#7a7aa8"}, "encoding": {"text": {"field": "t", "type": "quantitative", "format": ".3f"}}}]},
    {"width": 290, "height": 44, "title": {"text": "#9", "orient": "right", "angle": 0, "align": "left", "baseline": "middle", "anchor": "middle", "frame": "group", "offset": -14, "dy": 0, "font": "Lato", "fontWeight": "normal", "fontSize": 25}, "transform": [{"filter": "datum.s==9"}], "encoding": {"x": {"field": "t", "type": "quantitative", "scale": {"domain": [0, 20], "nice": false}, "title": "Minutes"}, "y": {"field": "y", "type": "quantitative", "scale": {"domain": [0, 100], "nice": false}, "title": "AU", "axis": {"tickCount": 3}}}, "layer": [{"mark": {"type": "line", "color": "#111", "strokeWidth": 1.5, "clip": true}}, {"transform": [{"filter": "datum.r==1"}], "mark": {"type": "line", "color": "#f01010", "strokeWidth": 2, "clip": true}}, {"transform": [{"filter": "datum.r==1"}, {"joinaggregate": [{"op": "max", "field": "y", "as": "my"}]}, {"filter": "datum.y==datum.my"}], "mark": {"type": "text", "angle": 270, "align": "left", "baseline": "middle", "dx": 2, "fontSize": 3.5, "color": "#7a7aa8"}, "encoding": {"text": {"field": "t", "type": "quantitative", "format": ".3f"}}}]}
   ]},
   {"bounds": "flush", "spacing": 78, "hconcat": [
    {"width": 292, "height": 58, "title": {"text": "#3", "orient": "right", "angle": 0, "align": "left", "baseline": "middle", "anchor": "middle", "frame": "group", "offset": -18, "dy": -3, "font": "Lato", "fontWeight": "normal", "fontSize": 25}, "transform": [{"filter": "datum.s==3"}], "encoding": {"x": {"field": "t", "type": "quantitative", "scale": {"domain": [0, 20], "nice": false}, "title": "Minutes"}, "y": {"field": "y", "type": "quantitative", "scale": {"domain": [0, 100], "nice": false}, "title": "AU"}}, "layer": [{"mark": {"type": "line", "color": "#111", "strokeWidth": 1.5, "clip": true}}, {"transform": [{"filter": "datum.r==1"}], "mark": {"type": "line", "color": "#f01010", "strokeWidth": 2, "clip": true}}, {"transform": [{"filter": "datum.r==1"}, {"joinaggregate": [{"op": "max", "field": "y", "as": "my"}]}, {"filter": "datum.y==datum.my"}], "mark": {"type": "text", "angle": 270, "align": "left", "baseline": "middle", "dx": 3, "fontSize": 3.5, "color": "#7a7aa8"}, "encoding": {"text": {"field": "t", "type": "quantitative", "format": ".3f"}}}]},
    {"width": 290, "height": 58, "title": {"text": "#10", "orient": "right", "angle": 0, "align": "left", "baseline": "middle", "anchor": "middle", "frame": "group", "offset": -27, "dy": -5, "font": "Lato", "fontWeight": "normal", "fontSize": 25}, "transform": [{"filter": "datum.s==10"}], "encoding": {"x": {"field": "t", "type": "quantitative", "scale": {"domain": [0, 20], "nice": false}, "title": "Minutes"}, "y": {"field": "y", "type": "quantitative", "scale": {"domain": [0, 100], "nice": false}, "title": "AU"}}, "layer": [{"mark": {"type": "line", "color": "#111", "strokeWidth": 1.5, "clip": true}}, {"transform": [{"filter": "datum.r==1"}], "mark": {"type": "line", "color": "#f01010", "strokeWidth": 2, "clip": true}}, {"transform": [{"filter": "datum.r==1"}, {"joinaggregate": [{"op": "max", "field": "y", "as": "my"}]}, {"filter": "datum.y==datum.my"}], "mark": {"type": "text", "angle": 270, "align": "left", "baseline": "middle", "dx": 3, "fontSize": 3.5, "color": "#7a7aa8"}, "encoding": {"text": {"field": "t", "type": "quantitative", "format": ".3f"}}}]}
   ]},
   {"bounds": "flush", "spacing": 78, "hconcat": [
    {"width": 292, "height": 58, "title": {"text": "#4", "orient": "right", "angle": 0, "align": "left", "baseline": "middle", "anchor": "middle", "frame": "group", "offset": -18, "dy": -3, "font": "Lato", "fontWeight": "normal", "fontSize": 25}, "transform": [{"filter": "datum.s==4"}], "encoding": {"x": {"field": "t", "type": "quantitative", "scale": {"domain": [0, 20], "nice": false}, "title": "Minutes"}, "y": {"field": "y", "type": "quantitative", "scale": {"domain": [0, 100], "nice": false}, "title": "AU"}}, "layer": [{"mark": {"type": "line", "color": "#111", "strokeWidth": 1.5, "clip": true}}, {"transform": [{"filter": "datum.r==1"}], "mark": {"type": "line", "color": "#f01010", "strokeWidth": 2, "clip": true}}, {"transform": [{"filter": "datum.r==1"}, {"joinaggregate": [{"op": "max", "field": "y", "as": "my"}]}, {"filter": "datum.y==datum.my"}], "mark": {"type": "text", "angle": 270, "align": "left", "baseline": "middle", "dx": 3, "fontSize": 3.5, "color": "#7a7aa8"}, "encoding": {"text": {"field": "t", "type": "quantitative", "format": ".3f"}}}]},
    {"width": 290, "height": 56, "title": {"text": "#11", "orient": "right", "angle": 0, "align": "left", "baseline": "middle", "anchor": "middle", "frame": "group", "offset": -29, "dy": -1, "font": "Lato", "fontWeight": "normal", "fontSize": 25}, "transform": [{"filter": "datum.s==11"}], "encoding": {"x": {"field": "t", "type": "quantitative", "scale": {"domain": [0, 20], "nice": false}, "title": "Minutes"}, "y": {"field": "y", "type": "quantitative", "scale": {"domain": [0, 100], "nice": false}, "title": "AU"}}, "layer": [{"mark": {"type": "line", "color": "#111", "strokeWidth": 1.5, "clip": true}}, {"transform": [{"filter": "datum.r==1"}], "mark": {"type": "line", "color": "#f01010", "strokeWidth": 2, "clip": true}}, {"transform": [{"filter": "datum.r==1"}, {"joinaggregate": [{"op": "max", "field": "y", "as": "my"}]}, {"filter": "datum.y==datum.my"}], "mark": {"type": "text", "angle": 270, "align": "left", "baseline": "middle", "dx": 3, "fontSize": 3.5, "color": "#7a7aa8"}, "encoding": {"text": {"field": "t", "type": "quantitative", "format": ".3f"}}}]}
   ]},
   {"bounds": "flush", "spacing": 78, "hconcat": [
    {"width": 292, "height": 58, "title": {"text": "#5", "orient": "right", "angle": 0, "align": "left", "baseline": "middle", "anchor": "middle", "frame": "group", "offset": -18, "dy": 3, "font": "Lato", "fontWeight": "normal", "fontSize": 25}, "transform": [{"filter": "datum.s==5"}], "encoding": {"x": {"field": "t", "type": "quantitative", "scale": {"domain": [0, 20], "nice": false}, "title": "Minutes"}, "y": {"field": "y", "type": "quantitative", "scale": {"domain": [0, 100], "nice": false}, "title": "AU"}}, "layer": [{"mark": {"type": "line", "color": "#111", "strokeWidth": 1.5, "clip": true}}, {"transform": [{"filter": "datum.r==1"}], "mark": {"type": "line", "color": "#f01010", "strokeWidth": 2, "clip": true}}, {"transform": [{"filter": "datum.r==1"}, {"joinaggregate": [{"op": "max", "field": "y", "as": "my"}]}, {"filter": "datum.y==datum.my"}], "mark": {"type": "text", "angle": 270, "align": "left", "baseline": "middle", "dx": 3, "fontSize": 3.5, "color": "#7a7aa8"}, "encoding": {"text": {"field": "t", "type": "quantitative", "format": ".3f"}}}]},
    {"width": 290, "height": 55, "title": {"text": "#12", "orient": "right", "angle": 0, "align": "left", "baseline": "middle", "anchor": "middle", "frame": "group", "offset": -29, "dy": 4, "font": "Lato", "fontWeight": "normal", "fontSize": 25}, "transform": [{"filter": "datum.s==12"}], "encoding": {"x": {"field": "t", "type": "quantitative", "scale": {"domain": [0, 20], "nice": false}, "title": "Minutes"}, "y": {"field": "y", "type": "quantitative", "scale": {"domain": [0, 100], "nice": false}, "title": "AU"}}, "layer": [{"mark": {"type": "line", "color": "#111", "strokeWidth": 1.5, "clip": true}}, {"transform": [{"filter": "datum.r==1"}], "mark": {"type": "line", "color": "#f01010", "strokeWidth": 2, "clip": true}}, {"transform": [{"filter": "datum.r==1"}, {"joinaggregate": [{"op": "max", "field": "y", "as": "my"}]}, {"filter": "datum.y==datum.my"}], "mark": {"type": "text", "angle": 270, "align": "left", "baseline": "middle", "dx": 3, "fontSize": 3.5, "color": "#7a7aa8"}, "encoding": {"text": {"field": "t", "type": "quantitative", "format": ".3f"}}}]}
   ]},
   {"bounds": "flush", "spacing": 78, "hconcat": [
    {"width": 292, "height": 57, "title": {"text": "#6", "orient": "right", "angle": 0, "align": "left", "baseline": "middle", "anchor": "middle", "frame": "group", "offset": -18, "dy": 8, "font": "Lato", "fontWeight": "normal", "fontSize": 25}, "transform": [{"filter": "datum.s==6"}], "encoding": {"x": {"field": "t", "type": "quantitative", "scale": {"domain": [0, 20], "nice": false}, "title": "Minutes"}, "y": {"field": "y", "type": "quantitative", "scale": {"domain": [0, 100], "nice": false}, "title": "AU"}}, "layer": [{"mark": {"type": "line", "color": "#111", "strokeWidth": 1.5, "clip": true}}, {"transform": [{"filter": "datum.r==1"}], "mark": {"type": "line", "color": "#f01010", "strokeWidth": 2, "clip": true}}, {"transform": [{"filter": "datum.r==1"}, {"joinaggregate": [{"op": "max", "field": "y", "as": "my"}]}, {"filter": "datum.y==datum.my"}], "mark": {"type": "text", "angle": 270, "align": "left", "baseline": "middle", "dx": 3, "fontSize": 3.5, "color": "#7a7aa8"}, "encoding": {"text": {"field": "t", "type": "quantitative", "format": ".3f"}}}]},
    {"width": 290, "height": 54, "title": {"text": "#13", "orient": "right", "angle": 0, "align": "left", "baseline": "middle", "anchor": "middle", "frame": "group", "offset": -29, "dy": 10, "font": "Lato", "fontWeight": "normal", "fontSize": 25}, "transform": [{"filter": "datum.s==13"}], "encoding": {"x": {"field": "t", "type": "quantitative", "scale": {"domain": [0, 20], "nice": false}, "title": "Minutes"}, "y": {"field": "y", "type": "quantitative", "scale": {"domain": [0, 100], "nice": false}, "title": "AU"}}, "layer": [{"mark": {"type": "line", "color": "#111", "strokeWidth": 1.5, "clip": true}}, {"transform": [{"filter": "datum.r==1"}], "mark": {"type": "line", "color": "#f01010", "strokeWidth": 2, "clip": true}}, {"transform": [{"filter": "datum.r==1"}, {"joinaggregate": [{"op": "max", "field": "y", "as": "my"}]}, {"filter": "datum.y==datum.my"}], "mark": {"type": "text", "angle": 270, "align": "left", "baseline": "middle", "dx": 3, "fontSize": 3.5, "color": "#7a7aa8"}, "encoding": {"text": {"field": "t", "type": "quantitative", "format": ".3f"}}}]}
   ]},
   {"bounds": "flush", "spacing": 76, "hconcat": [
    {"width": 291, "height": 51, "title": {"text": "#7", "orient": "right", "angle": 0, "align": "left", "baseline": "middle", "anchor": "middle", "frame": "group", "offset": -16, "dy": 9, "font": "Lato", "fontWeight": "normal", "fontSize": 25}, "transform": [{"filter": "datum.s==7"}], "encoding": {"x": {"field": "t", "type": "quantitative", "scale": {"domain": [0, 20], "nice": false}, "title": "Minutes"}, "y": {"field": "y", "type": "quantitative", "scale": {"domain": [0, 100], "nice": false}, "title": "AU"}}, "layer": [{"mark": {"type": "line", "color": "#111", "strokeWidth": 1.5, "clip": true}}, {"transform": [{"filter": "datum.r==1"}], "mark": {"type": "line", "color": "#f01010", "strokeWidth": 2, "clip": true}}, {"transform": [{"filter": "datum.r==1"}, {"joinaggregate": [{"op": "max", "field": "y", "as": "my"}]}, {"filter": "datum.y==datum.my"}], "mark": {"type": "text", "angle": 270, "align": "left", "baseline": "middle", "dx": 3, "fontSize": 3.5, "color": "#7a7aa8"}, "encoding": {"text": {"field": "t", "type": "quantitative", "format": ".3f"}}}]},
    {"width": 292, "height": 58, "title": {"text": "#14", "orient": "right", "angle": 0, "align": "left", "baseline": "middle", "anchor": "middle", "frame": "group", "offset": -30, "dy": 5, "font": "Lato", "fontWeight": "normal", "fontSize": 25}, "transform": [{"filter": "datum.s==14"}], "encoding": {"x": {"field": "t", "type": "quantitative", "scale": {"domain": [0, 20], "nice": false}, "title": "Minutes"}, "y": {"field": "y", "type": "quantitative", "scale": {"domain": [0, 100], "nice": false}, "title": "AU"}}, "layer": [{"mark": {"type": "line", "color": "#111", "strokeWidth": 1.5, "clip": true}}, {"transform": [{"filter": "datum.r==1"}], "mark": {"type": "line", "color": "#f01010", "strokeWidth": 2, "clip": true}}, {"transform": [{"filter": "datum.r==1"}, {"joinaggregate": [{"op": "max", "field": "y", "as": "my"}]}, {"filter": "datum.y==datum.my"}], "mark": {"type": "text", "angle": 270, "align": "left", "baseline": "middle", "dx": 3, "fontSize": 3.5, "color": "#7a7aa8"}, "encoding": {"text": {"field": "t", "type": "quantitative", "format": ".3f"}}}]}
   ]}
  ]
 }
]
}
